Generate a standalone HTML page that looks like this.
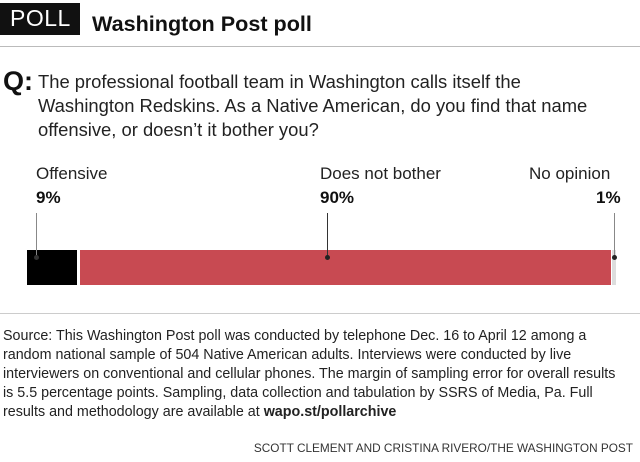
<!DOCTYPE html>
<html><head><style>
body{margin:0;width:640px;height:462px;background:#fff;font-family:"Liberation Sans",sans-serif;position:relative;overflow:hidden;color:#111}
.a{position:absolute;white-space:nowrap}
</style></head><body>
<div class="a" style="left:0;top:3px;width:80px;height:32px;background:#111"></div>
<div class="a" style="left:10px;top:5px;font-size:23px;color:#fff;letter-spacing:0.5px">POLL</div>
<div class="a" style="left:92px;top:11px;font-size:21.6px;font-weight:bold">Washington Post poll</div>
<div class="a" style="left:0;top:46px;width:640px;height:1px;background:#bbb"></div>
<div class="a" style="left:3px;top:66px;font-size:27px;font-weight:bold">Q:</div>
<div class="a" style="left:38px;top:70px;font-size:18.4px;line-height:24px;color:#222">The professional football team in Washington calls itself the<br>Washington Redskins. As a Native American, do you find that name<br>offensive, or doesn’t it bother you?</div>
<div class="a" style="left:36px;top:164px;font-size:17px;color:#222">Offensive</div>
<div class="a" style="left:36px;top:188px;font-size:17px;font-weight:bold">9%</div>
<div class="a" style="left:320px;top:164px;font-size:17px;color:#222">Does not bother</div>
<div class="a" style="left:320px;top:188px;font-size:17px;font-weight:bold">90%</div>
<div class="a" style="left:529px;top:164px;font-size:17px;color:#222">No opinion</div>
<div class="a" style="left:596px;top:188px;font-size:17px;font-weight:bold">1%</div>
<div class="a" style="left:27px;top:250px;width:50px;height:35px;background:#000"></div>
<div class="a" style="left:80px;top:250px;width:531px;height:35px;background:#c84a52"></div>
<div class="a" style="left:612px;top:250px;width:4px;height:35px;background:#ddd"></div>
<div class="a" style="left:36px;top:213px;width:1px;height:44px;background:#888"></div>
<div class="a" style="left:327px;top:213px;width:1px;height:44px;background:#333"></div>
<div class="a" style="left:614px;top:213px;width:1px;height:44px;background:#888"></div>
<div class="a" style="left:34px;top:255px;width:5px;height:5px;border-radius:50%;background:#333"></div>
<div class="a" style="left:325px;top:255px;width:5px;height:5px;border-radius:50%;background:#222"></div>
<div class="a" style="left:612px;top:255px;width:5px;height:5px;border-radius:50%;background:#222"></div>
<div class="a" style="left:0;top:313px;width:640px;height:1px;background:#ccc"></div>
<div class="a" style="left:3px;top:327px;font-size:14.3px;line-height:19px;color:#222">Source: This Washington Post poll was conducted by telephone Dec. 16 to April 12 among a<br>random national sample of 504 Native American adults. Interviews were conducted by live<br>interviewers on conventional and cellular phones. The margin of sampling error for overall results<br>is 5.5 percentage points. Sampling, data collection and tabulation by SSRS of Media, Pa. Full<br>results and methodology are available at <b>wapo.st/pollarchive</b></div>
<div class="a" style="right:7px;top:441px;font-size:11.8px;color:#333">SCOTT CLEMENT AND CRISTINA RIVERO/THE WASHINGTON POST</div>
</body></html>
